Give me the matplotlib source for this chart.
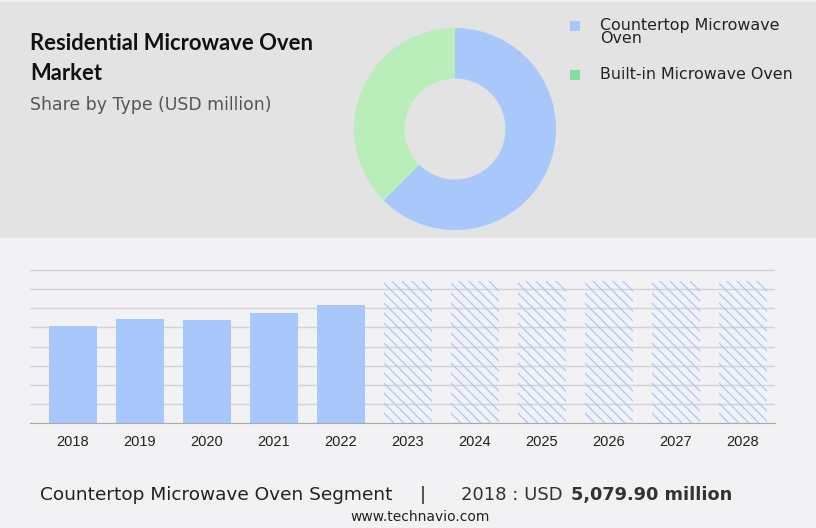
import matplotlib
matplotlib.use("Agg")
import matplotlib.pyplot as plt
from matplotlib.patches import Rectangle
from matplotlib.collections import LineCollection
from matplotlib.transforms import IdentityTransform

# data
years = ["2018", "2019", "2020", "2021", "2022",
         "2023", "2024", "2025", "2026", "2027", "2028"]
actual = [5079.9, 5440, 5390, 5770, 6190]
forecast_height = 7430  # placeholder height for the hatched forecast bars
share_labels = ["Countertop Microwave\nOven", "Built-in Microwave Oven"]
share_values = [62.5, 37.5]

W, H = 816, 528
BLUE = "#a8c8fc"
GREEN_PIE = "#b9eeba"
GREEN_KEY = "#7ee29a"


def fx(x):
    return x / W


def fy(y):
    return 1 - y / H


fig = plt.figure(figsize=(W / 100, H / 100), dpi=100, facecolor="#f2f2f4")

# top grey panel
fig.add_artist(Rectangle((0, fy(238)), 1, 1 - fy(238), transform=fig.transFigure,
                         facecolor="#e3e3e3", edgecolor="none", zorder=0))
fig.add_artist(Rectangle((0, fy(1.5)), 1, 1.5 / H, transform=fig.transFigure,
                         facecolor="#eeeeee", edgecolor="none", zorder=0))

# titles
fig.text(fx(30), fy(50), "Residential Microwave Oven", fontsize=15.8,
         fontweight="bold", family="Lato", color="#111111", va="baseline")
fig.text(fx(30), fy(80), "Market", fontsize=15.8,
         fontweight="bold", family="Lato", color="#111111", va="baseline")
fig.text(fx(30), fy(110), "Share by Type (USD million)", fontsize=12.4,
         family="DejaVu Sans", color="#555555", va="baseline")

# donut
cx, cy, r = 455, 129, 101
left, right, top, bottom = 354, 556, 28, 228
axp = fig.add_axes([fx(left), fy(bottom), fx(right - left), (bottom - top) / H])
axp.pie(share_values, colors=[BLUE, GREEN_PIE], startangle=90, counterclock=False,
        wedgeprops=dict(width=0.5, edgecolor="none"))
axp.set_aspect("auto")
axp.set_xlim((left - cx) / r, (right - cx) / r)
axp.set_ylim(-(bottom - cy) / r, (cy - top) / r)
axp.axis("off")

# legend
keys = [(share_labels[0], BLUE, 26), (share_labels[1], GREEN_KEY, 75)]
for label, col, yc in keys:
    fig.add_artist(Rectangle((fx(570), fy(yc + 5)), 10 / W, 10 / H,
                             transform=fig.transFigure, facecolor=col,
                             edgecolor="none"))
    fig.text(fx(600), fy(yc - 8), label, fontsize=11.4, family="DejaVu Sans",
             color="#222222", va="top", linespacing=0.85)

# bar chart
x0, x1 = 30, 775
base, unit = 423, 19.125  # pixels per 1000
ymax = 8200
ax_top = base - ymax / 1000 * unit
ax = fig.add_axes([fx(x0), fy(base), fx(x1 - x0), (base - ax_top) / H])
ax.set_facecolor("none")
pos = list(range(len(years)))
ax.bar(pos[:len(actual)], actual, width=0.72, color=BLUE, zorder=2)
fc_bars = ax.bar(pos[len(actual):], [forecast_height] * (len(years) - len(actual)),
                 width=0.72, facecolor="none", edgecolor="none", linewidth=0,
                 zorder=2)
ax.set_xlim((x0 - 73) / 67, (x1 - 73) / 67)
ax.set_ylim(0, ymax)
ax.set_yticks(range(0, 8001, 1000))
ax.yaxis.grid(True, color="#d3d3d6", linewidth=1, zorder=0)
ax.set_axisbelow(True)
ax.tick_params(axis="y", left=False, labelleft=False)
ax.tick_params(axis="x", length=0, pad=9, labelsize=10.5, labelcolor="#222222")
ax.set_xticks(pos)
ax.set_xticklabels(years, family="Liberation Sans")
for s in ["top", "right", "left"]:
    ax.spines[s].set_visible(False)
ax.spines["bottom"].set_color("#aaaaaa")

# diagonal hatching of the forecast bars, 10 px apart, clipped to each bar
step = 10
for bar in fc_bars:
    (bx0, by0), (bx1, by1) = ax.transData.transform(
        [(bar.get_x(), 0), (bar.get_x() + bar.get_width(), bar.get_height())])
    span = by1 - by0
    segs = []
    xs = bx0 - span
    while xs < bx1 + step:
        segs.append([(xs, by1), (xs + span, by0)])
        xs += step
    lc = LineCollection(segs, colors=BLUE, linewidths=0.9,
                        transform=IdentityTransform(), zorder=2)
    ax.add_collection(lc, autolim=False)
    lc.set_clip_path(bar)

# footer
fig.text(fx(40), fy(500), "Countertop Microwave Oven Segment", fontsize=13.3,
         family="DejaVu Sans", color="#222222", va="baseline")
fig.text(fx(423), fy(500), "|", fontsize=13, family="DejaVu Sans",
         color="#222222", va="baseline", ha="center")
fig.text(fx(461), fy(500), "2018 : USD ", fontsize=13, family="DejaVu Sans",
         color="#333333", va="baseline")
fig.text(fx(571), fy(500), "5,079.90 million", fontsize=12.8, family="DejaVu Sans",
         fontweight="bold", color="#333333", va="baseline")
fig.text(fx(420), fy(521), "www.technavio.com", fontsize=10, family="DejaVu Sans",
         color="#222222", va="baseline", ha="center")

fig.savefig("out.png", dpi=100, facecolor=fig.get_facecolor())
